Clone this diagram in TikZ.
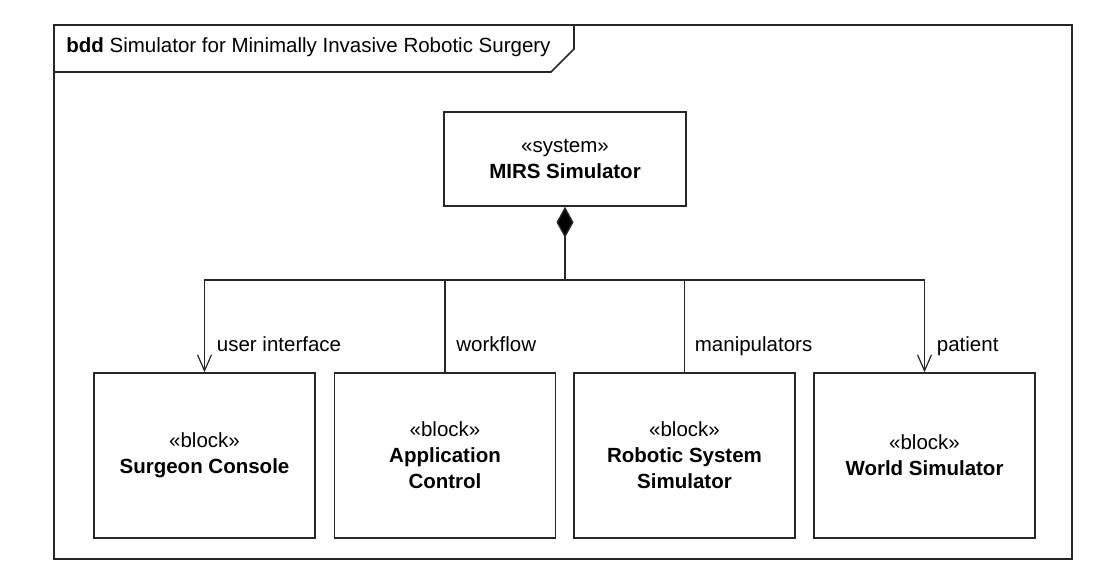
\documentclass[tikz,border=0pt]{standalone}
\usepackage{fontspec}
\setmainfont{Liberation Sans}
\usetikzlibrary{arrows.meta,calc}
\begin{document}
\begin{tikzpicture}[x=0.5pt,y=-0.5pt,
  every node/.style={font=\fontsize{10.25}{13}\selectfont},
  frameline/.style={draw=black!85,line width=0.8pt},
  blockbox/.style={draw=black!85,line width=0.75pt,fill=white,minimum width=110.5pt,minimum height=82.5pt,align=center,inner sep=0pt},
  sysbox/.style={draw=black!85,line width=0.75pt,fill=white,minimum width=121pt,minimum height=47pt,align=center,inner sep=0pt},
  conn/.style={draw=black!85,line width=0.7pt},
  navend/.style={conn,-{Straight Barb[length=8pt,width=7pt,line width=0.6pt]}},
  rolelabel/.style={anchor=base west,inner sep=0pt},
]
\useasboundingbox (0,0) rectangle (1107,585);
% frame
\draw[frameline] (54,25) rectangle (1072,559);
\draw[frameline] (54,72) -- (551,72) -- (574,49) -- (574,25);
\node[anchor=west,inner sep=0pt] (title) at (66,47) {\textbf{bdd} Simulator for Minimally Invasive Robotic Surgery};
% blocks
\node[sysbox] (mirs) at (565,159) {«system»\\\textbf{MIRS Simulator}};
\node[blockbox] (sc) at (204.5,455.5) {«block»\\\textbf{Surgeon Console}};
\node[blockbox] (ac) at (445,455.5) {«block»\\\textbf{Application}\\\textbf{Control}};
\node[blockbox] (rs) at (684.5,455.5) {«block»\\\textbf{Robotic System}\\\textbf{Simulator}};
\node[blockbox] (ws) at (924.5,455.5) {«block»\\\textbf{World Simulator}};
% composition
\coordinate (hub) at (565,280);
\draw[conn,{Diamond[length=15.5pt,width=8.5pt,fill=black]}-] (mirs.south) -- (hub);
\draw[navend] (hub) -| (sc.north);
\draw[conn] (hub) -| (ac.north);
\draw[conn] (hub) -| (rs.north);
\draw[navend] (hub) -| (ws.north);
% role names
\node[rolelabel] (l1) at ([xshift=6pt,yshift=10.5pt]sc.north) {user interface};
\node[rolelabel] (l2) at ([xshift=5.5pt,yshift=10.5pt]ac.north) {workflow};
\node[rolelabel] (l3) at ([xshift=5pt,yshift=10.5pt]rs.north) {manipulators};
\node[rolelabel] (l4) at ([xshift=6pt,yshift=10.5pt]ws.north) {patient};
\end{tikzpicture}
\end{document}
